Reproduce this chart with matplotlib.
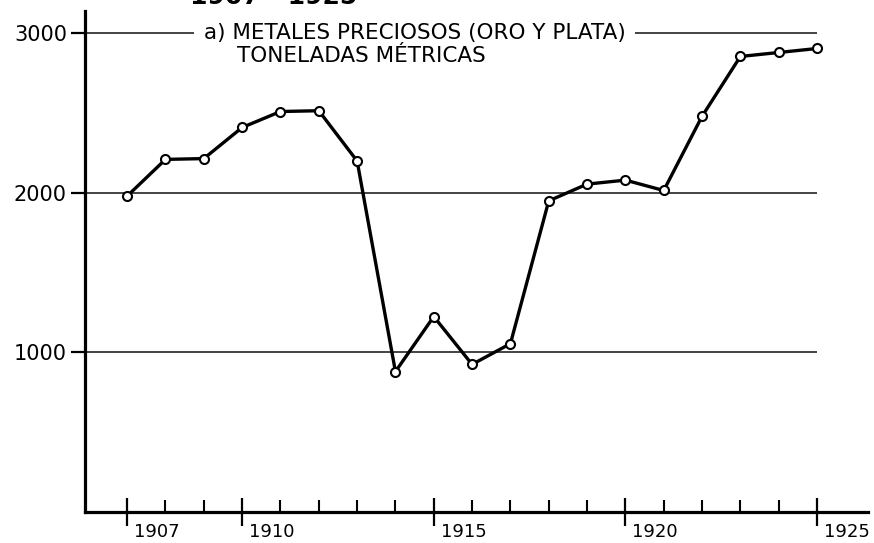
import matplotlib
matplotlib.use("Agg")
import matplotlib.pyplot as plt
import matplotlib.transforms as mtransforms

# valores (toneladas metricas)
years = [1907, 1908, 1909, 1910, 1911, 1912, 1913, 1914, 1915, 1916,
         1917, 1918, 1919, 1920, 1921, 1922, 1923, 1924, 1925]
tons = [1980, 2210, 2215, 2410, 2510, 2515, 2200, 880, 1225, 925,
        1055, 1950, 2055, 2080, 2015, 2480, 2855, 2880, 2905]

y_grid = [1000, 2000, 3000]
y_labels = ["1000", "2000", "3000"]
x_major = [1907, 1910, 1915, 1920, 1925]
x_labels = ["1907", "1910", "1915", "1920", "1925"]

title_top = "1907 - 1925"
note_1 = "a) METALES PRECIOSOS (ORO Y PLATA)"
note_2 = "TONELADAS MÉTRICAS"

plt.rcParams['font.family'] = ['DejaVu Sans']

fig = plt.figure(figsize=(8.74, 5.43), dpi=100)
ax = fig.add_axes([85/874, 31/543, 783/874, 501/543])

ax.set_xlim(1905.9, 1926.33)
ax.set_ylim(0, 3140)

# lineas horizontales hasta 1925
ax.hlines(y_grid, ax.get_xlim()[0], years[-1], colors='#111111', linewidth=1.1, zorder=1)

ax.plot(years, tons, color='black', linewidth=2.4, marker='o', markersize=6.5,
        markerfacecolor='white', markeredgecolor='black', markeredgewidth=1.5, zorder=3)

for side in ['top', 'right']:
    ax.spines[side].set_visible(False)
for side in ['left', 'bottom']:
    ax.spines[side].set_linewidth(2.3)

ax.set_yticks(y_grid)
ax.set_yticklabels(y_labels)
ax.tick_params(axis='y', direction='out', length=10, width=1.6, pad=3, labelsize=15)

ax.set_xticks(x_major)
ax.set_xticklabels(x_labels)
ax.set_xticks(years, minor=True)
ax.tick_params(axis='x', which='major', direction='inout', length=20, width=1.6, pad=-2, labelsize=13)
ax.tick_params(axis='x', which='minor', direction='in', length=9, width=1.5)
offset = mtransforms.ScaledTranslation(7/100, 0, fig.dpi_scale_trans)
for lab in ax.get_xticklabels():
    lab.set_horizontalalignment('left')
    lab.set_transform(lab.get_transform() + offset)

ax.text(0.152, 3000, note_1, fontsize=15.5, va='center', ha='left',
        transform=ax.get_yaxis_transform(),
        bbox=dict(facecolor='white', edgecolor='none', pad=7))
ax.text(0.194, 2860, note_2, fontsize=15.5, va='center', ha='left',
        transform=ax.get_yaxis_transform())

fig.text(190/874, 1 - 4/543, title_top, fontsize=18, fontweight='bold',
         ha='left', va='baseline')

fig.savefig("out.png", dpi=100)
